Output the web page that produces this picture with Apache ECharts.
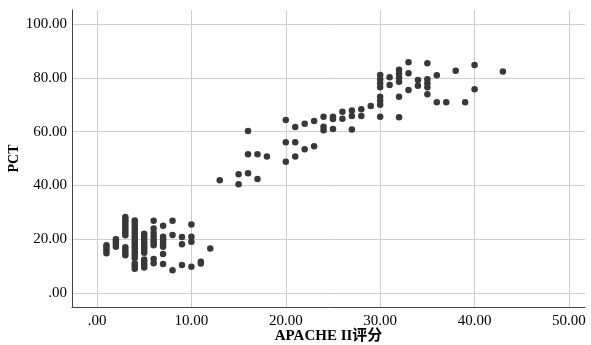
<!DOCTYPE html>
<html>
<head>
<meta charset="utf-8">
<script src="https://cdn.jsdelivr.net/npm/echarts@6/dist/echarts.min.js"></script>
<style>html,body{margin:0;padding:0;background:#fff}#c{width:591px;height:345px}</style>
</head>
<body>
<div id="c"></div>
<script>
// APACHE II score (x) for each patient
const apacheScores = [
  1,1,1,1,
  2,2,2,2,
  3,3,3,3,3,3,3,3,3,3,3,3,
  4,4,4,4,4,4,4,4,4,4,4,4,4,4,4,4,4,4,
  5,5,5,5,5,5,5,5,5,5,5,5,
  6,6,6,6,6,6,6,6,6,
  7,7,7,7,7,7,7,7,
  8,8,8,
  9,9,9,
  10,10,10,10,
  11,11,
  12,
  13,
  15,15,
  16,16,16,
  17,17,
  18,
  20,20,20,
  21,21,21,
  22,22,
  23,23,
  24,24,24,
  25,25,25,
  26,26,
  27,27,27,
  28,28,
  29,
  30,30,30,30,30,30,30,30,
  31,31,
  32,32,32,32,32,32,
  33,33,33,
  34,34,
  35,35,35,35,35,
  36,36,
  37,
  38,
  39,
  40,40,
  43
];
// PCT value (y) for each patient, same order
const pctValues = [
  14.8,15.8,16.8,17.8,
  17.2,18.2,19.2,20.0,
  21.5,22.5,23.5,24.5,25.5,26.5,27.5,28.3,14.0,15.0,16.0,17.0,
  27.0,26.0,25.0,24.0,23.0,22.0,21.0,20.0,19.0,18.0,17.0,16.0,15.0,14.0,13.0,11.0,10.0,9.0,
  22.0,21.0,20.0,19.0,18.0,17.0,16.0,15.0,12.5,11.5,10.5,9.5,
  26.9,24.0,22.3,21.0,19.7,18.8,17.8,12.6,11.1,
  25.0,20.9,20.0,19.0,18.0,17.2,14.5,10.8,
  26.9,21.6,8.5,
  20.8,18.1,10.4,
  25.5,20.9,19.1,9.8,
  11.6,11.0,
  16.5,
  41.9,
  44.1,40.4,
  60.2,51.6,44.5,
  51.6,42.4,
  50.7,
  64.3,56.0,48.8,
  61.7,56.0,50.7,
  62.9,53.4,
  63.9,54.6,
  65.5,61.8,60.5,
  65.5,64.7,61.0,
  67.4,64.8,
  67.8,65.8,60.8,
  68.3,65.8,
  69.5,
  81.0,79.5,78.0,76.5,73.0,71.5,70.0,65.5,
  80.2,77.3,
  83.0,81.5,80.0,78.5,73.0,65.3,
  85.8,81.7,75.5,
  79.2,77.0,
  85.4,79.5,78.0,76.5,73.9,
  80.9,70.9,
  70.9,
  82.6,
  70.9,
  84.8,75.7,
  82.3
];
const xTickValues = [0, 10, 20, 30, 40, 50];
const yTickValues = [0, 20, 40, 60, 80, 100];
const xAxisTitle = 'APACHE II评分';
const yAxisTitle = 'PCT';

function fmt(v) {
  return v === 0 ? '.00' : v.toFixed(2);
}
function tickFormatter(list) {
  return function (v) {
    for (const t of list) if (Math.abs(v - t) < 1e-6) return fmt(t);
    return '';
  };
}

const points = apacheScores.map((x, i) => [x, pctValues[i]]);
const font = '"Liberation Serif", "Noto Sans CJK SC", serif';

const chart = echarts.init(document.getElementById('c'), null, {renderer: 'canvas'});
chart.setOption({
  animation: false,
  backgroundColor: '#ffffff',
  grid: {left: 72, right: 6, top: 10, bottom: 38, containLabel: false, outerBoundsMode: 'none'},
  xAxis: {
    type: 'value',
    min: -2.65, max: 51.7,
    minInterval: 10, maxInterval: 10,
    name: xAxisTitle,
    nameLocation: 'middle',
    nameGap: 22,
    nameMoveOverlap: false,
    nameTextStyle: {color: '#000', fontFamily: font, fontSize: 15, fontWeight: 'bold'},
    axisLine: {show: true, onZero: false, lineStyle: {color: '#444', width: 1}},
    axisTick: {show: false},
    axisLabel: {color: '#000', fontFamily: font, fontSize: 15, margin: 7,
      showMinLabel: false, showMaxLabel: false, formatter: tickFormatter(xTickValues)},
    splitLine: {show: true, showMinLine: false, showMaxLine: false, lineStyle: {color: '#cdcdcd', width: 1}}
  },
  yAxis: {
    type: 'value',
    min: -5.2, max: 105.2,
    minInterval: 20, maxInterval: 20,
    name: yAxisTitle,
    nameLocation: 'middle',
    nameGap: 51,
    nameMoveOverlap: false,
    nameRotate: 90,
    nameTextStyle: {color: '#000', fontFamily: font, fontSize: 14, fontWeight: 'bold'},
    axisLine: {show: true, onZero: false, lineStyle: {color: '#444', width: 1}},
    axisTick: {show: false},
    axisLabel: {color: '#000', fontFamily: font, fontSize: 15, margin: 5,
      showMinLabel: false, showMaxLabel: false, formatter: tickFormatter(yTickValues)},
    splitLine: {show: true, showMinLine: false, showMaxLine: false, lineStyle: {color: '#cdcdcd', width: 1}}
  },
  series: [{
    type: 'scatter',
    data: points,
    symbol: 'circle',
    symbolSize: 6.5,
    itemStyle: {color: '#383838', opacity: 1},
    silent: true
  }]
});
</script>
</body>
</html>
